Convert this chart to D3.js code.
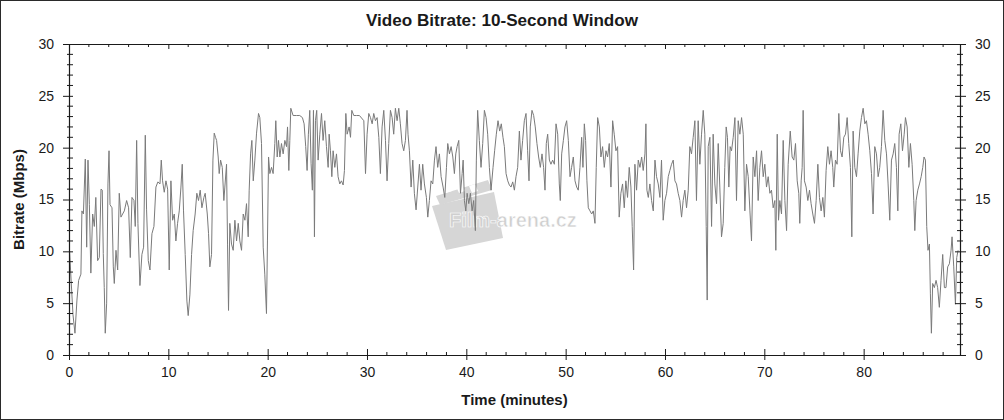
<!DOCTYPE html>
<html>
<head>
<meta charset="utf-8">
<script src="https://cdn.jsdelivr.net/npm/d3@7"></script>
<style>
  html, body { margin: 0; padding: 0; background: #fff; }
  svg { display: block; font-family: "Liberation Sans", Arial, sans-serif; }
</style>
</head>
<body>
<svg id="chart" width="1004" height="420"></svg>
<script>
// ---- data ----
const minutes = [
0.05,0.4,0.6,0.8,0.97,1.2,1.3,1.45,1.64,1.78,1.91,2.05,2.2,2.38,2.55,2.7,2.88,3.05,3.22,3.35,3.45,3.55,3.65,3.79,3.92,4.03,4.13,4.33,4.46,4.56,4.73,4.9,5.06,5.23,5.57,5.8,6.0,6.17,6.34,6.54,6.67,6.81,6.94,7.14,7.34,7.51,7.68,7.81,7.98,8.15,8.35,8.55,8.75,8.95,9.16,9.29,9.42,9.59,9.76,9.93,10.09,10.26,10.43,10.6,10.76,10.93,11.1,11.27,11.4,11.53,11.7,11.87,12.0,12.17,12.34,12.5,12.7,12.87,13.04,13.21,13.38,13.58,13.71,13.92,14.05,14.18,14.35,14.49,14.62,14.75,
14.86,15.02,15.12,15.26,15.43,15.59,15.69,15.86,15.96,16.06,16.19,16.36,16.53,16.7,16.87,17.04,17.2,17.37,17.54,17.71,17.87,18.04,18.14,18.28,18.41,18.55,18.71,18.88,19.08,19.21,19.38,19.55,19.71,19.88,19.98,20.09,20.22,20.39,20.55,20.72,20.82,20.96,21.09,21.23,21.39,21.56,21.73,21.9,22.0,22.13,22.23,22.33,22.56,22.9,23.23,23.5,23.67,23.83,23.97,24.1,24.24,24.37,24.5,24.61,24.71,24.81,24.94,25.08,25.25,25.42,25.58,25.75,25.92,26.09,26.19,26.32,26.46,26.59,26.76,26.93,27.09,27.26,27.43,27.6,27.73,27.87,28.0,28.2,28.34,28.47,28.67,28.94,29.24,
29.68,29.85,30.01,30.18,30.35,30.52,30.68,30.85,31.02,31.19,31.35,31.52,31.69,31.86,32.02,32.19,32.36,32.53,32.69,32.86,33.03,33.2,33.36,33.53,33.7,33.87,34.03,34.13,34.27,34.44,34.61,34.77,34.94,35.11,35.28,35.44,35.61,35.78,35.98,36.12,36.28,36.45,36.62,36.79,36.95,37.12,37.29,37.46,37.66,37.83,38.0,38.13,38.3,38.47,38.64,38.8,38.94,39.07,39.24,39.41,39.58,39.68,39.81,39.95,40.08,40.25,40.41,40.58,40.74,40.91,41.01,41.14,41.31,41.48,41.65,41.82,41.99,42.15,42.32,42.49,42.69,42.85,43.02,43.19,43.36,43.52,43.69,
43.83,44.0,44.17,44.33,44.5,44.67,44.84,45.0,45.17,45.34,45.5,45.67,45.84,46.01,46.17,46.31,46.44,46.61,46.78,46.94,47.11,47.28,47.45,47.62,47.78,47.92,48.05,48.19,48.36,48.52,48.69,48.86,49.03,49.2,49.36,49.46,49.6,49.77,49.93,50.1,50.27,50.44,50.6,50.77,50.94,51.11,51.27,51.44,51.61,51.74,51.88,52.01,52.14,52.28,52.45,52.62,52.78,52.95,53.08,53.22,53.39,53.55,53.72,53.89,54.06,54.22,54.39,54.56,54.73,54.89,55.06,55.23,55.39,55.56,55.73,55.9,56.06,56.23,56.4,56.57,56.7,56.84,56.97,57.14,57.31,57.48,57.65,57.81,57.98,58.08,
58.18,58.32,58.48,58.65,58.82,58.99,59.15,59.32,59.49,59.65,59.82,59.99,60.16,60.33,60.49,60.66,60.83,61.0,61.16,61.33,61.5,61.67,61.83,62.0,62.17,62.34,62.5,62.67,62.84,63.01,63.17,63.34,63.51,63.68,63.85,64.01,64.15,64.25,64.35,64.52,64.69,64.85,65.02,65.19,65.36,65.52,65.69,65.86,66.02,66.16,66.29,66.43,66.56,66.7,66.87,67.04,67.2,67.37,67.54,67.71,67.88,68.04,68.21,68.38,68.55,68.71,68.88,69.05,69.22,69.38,69.55,69.72,69.89,70.05,70.22,70.39,70.56,70.72,70.89,71.06,71.16,71.3,71.43,71.56,71.73,71.9,72.07,72.24,72.4,72.61,
72.8,72.97,73.14,73.31,73.47,73.57,73.71,73.81,73.91,74.04,74.21,74.38,74.55,74.71,74.88,75.05,75.22,75.39,75.55,75.72,75.89,76.05,76.22,76.39,76.56,76.72,76.89,76.99,77.16,77.33,77.5,77.67,77.83,78.0,78.17,78.34,78.5,78.67,78.81,78.94,79.11,79.28,79.44,79.61,79.78,79.95,80.12,80.28,80.45,80.62,80.79,80.95,81.12,81.29,81.46,81.62,81.79,81.96,82.13,82.3,82.46,82.63,82.8,82.97,83.13,83.3,83.44,83.57,83.74,83.91,84.08,84.21,84.38,84.55,84.71,84.88,85.05,85.15,85.28,85.45,85.62,85.79,85.95,86.08,86.22,86.35,86.48,86.62,86.72,86.82,86.95,87.12,87.29,87.45,87.62,87.79,87.96,88.13,88.29,88.46,88.63,88.8,88.9,89.07,89.24,89.37,89.51
];
const bitrate = [
10.1,3.9,2.1,5.3,7.2,7.8,13.9,13.6,18.9,10.4,18.8,14.5,7.9,13.6,12.4,15.2,9.1,9.4,16.0,15.9,9.8,6.5,2.1,5.0,16.5,19.7,14.5,14.2,8.5,6.9,10.1,8.2,15.6,13.3,13.9,14.9,14.2,9.4,15.2,14.9,12.4,20.7,12.7,6.7,9.7,10.4,21.2,14.0,9.1,8.2,11.7,12.4,16.2,16.7,16.5,18.8,16.8,15.7,16.8,16.0,8.2,16.8,13.0,13.6,11.0,12.7,13.9,16.2,18.4,13.9,9.7,5.2,3.8,5.8,9.7,12.0,13.6,15.6,14.9,15.9,14.2,15.2,15.6,13.6,11.7,8.5,9.7,18.8,21.4,21.0,
20.7,19.1,17.5,18.8,18.1,14.9,16.2,18.4,10.7,4.3,12.7,10.7,10.1,13.0,11.0,12.7,11.0,10.1,13.6,13.0,14.6,11.4,15.9,19.4,20.7,16.8,18.8,21.4,23.3,22.9,20.4,10.4,7.8,4.0,11.0,19.1,17.5,18.1,17.5,20.4,22.6,19.1,20.7,19.1,20.4,19.4,20.7,20.1,22.0,17.8,20.7,23.8,23.1,23.1,23.1,22.9,22.3,20.1,17.8,21.3,23.6,18.5,15.9,23.6,11.4,22.6,23.6,18.8,21.3,23.3,20.7,22.6,20.1,18.1,21.3,19.7,17.2,19.7,18.1,19.4,17.2,16.5,16.8,16.4,17.8,23.3,21.3,22.0,21.0,23.6,23.1,23.1,23.1,
22.6,17.5,21.3,23.3,22.9,22.3,23.3,22.6,22.9,21.0,17.5,22.0,23.6,20.7,16.8,20.4,23.6,22.9,21.3,23.8,22.6,23.8,22.3,20.4,19.7,20.7,23.6,21.3,19.7,16.2,18.8,15.6,14.0,16.2,18.4,15.9,18.4,16.5,15.2,13.3,14.9,16.8,16.5,18.8,20.1,18.1,19.4,17.2,16.2,15.2,18.1,20.4,19.4,20.1,19.1,17.5,19.4,20.1,20.7,15.6,17.5,18.8,14.9,13.9,15.6,14.6,15.6,13.9,14.9,12.0,18.8,23.6,20.7,18.1,20.4,23.6,22.9,21.3,18.1,15.9,18.1,19.7,21.3,22.6,21.6,22.3,21.0,
20.1,17.5,16.8,16.4,16.2,16.7,15.9,17.2,18.1,21.6,18.8,20.7,22.6,23.3,19.7,16.8,22.0,23.6,23.1,22.0,20.4,19.1,18.1,19.4,18.1,15.9,20.4,21.3,18.8,18.4,18.8,18.4,22.3,21.3,16.5,14.9,19.4,20.7,22.0,22.6,20.7,17.2,18.1,19.1,16.8,16.2,15.9,18.1,21.0,18.1,22.3,20.7,16.8,14.2,13.9,13.6,13.9,12.7,18.1,22.9,22.0,19.1,20.1,18.1,19.7,19.1,20.4,16.2,22.6,21.3,19.7,20.1,13.3,15.6,16.5,14.2,16.8,15.2,18.1,16.2,12.4,8.2,18.4,15.9,18.8,18.1,19.1,17.8,19.4,22.3,
15.9,15.2,16.5,14.9,13.9,18.8,17.2,16.5,15.2,18.8,13.0,14.9,15.6,17.2,17.8,18.4,18.8,16.8,16.5,15.6,14.9,13.3,14.9,15.9,14.2,15.9,20.1,19.4,21.0,22.6,14.9,22.6,18.4,21.3,23.6,21.3,12.4,5.3,20.1,21.0,12.4,21.3,16.5,14.6,20.4,16.2,11.4,12.7,18.1,22.0,21.0,16.2,20.1,19.7,21.0,22.9,14.9,22.6,21.3,22.9,21.3,13.9,18.4,17.2,13.9,11.0,19.1,17.2,19.7,14.9,18.1,19.7,17.2,18.4,16.2,17.2,15.6,15.9,14.2,14.9,10.1,21.3,13.0,14.9,13.6,20.7,14.9,12.0,18.4,21.6,
19.1,18.8,20.4,16.8,15.6,12.7,16.8,18.1,23.6,16.8,16.2,14.9,15.9,14.6,13.6,12.7,14.9,18.4,15.2,13.9,15.2,13.3,17.8,20.1,18.4,19.7,18.1,16.2,18.8,18.4,23.3,19.7,19.1,21.0,21.3,22.9,20.4,18.1,11.4,21.6,18.1,17.2,19.4,21.6,22.9,23.8,22.3,22.6,21.3,19.7,17.5,13.6,20.1,19.4,17.2,18.1,20.1,23.6,20.7,19.4,16.5,13.0,18.8,19.4,20.4,18.1,13.9,21.3,22.3,19.7,21.3,22.9,22.0,18.1,20.4,18.4,14.9,12.0,14.9,15.9,16.5,17.2,18.1,19.1,18.8,12.4,10.1,10.7,5.9,2.1,6.9,6.5,7.2,6.5,4.6,7.2,9.7,6.5,6.5,8.5,8.8,10.1,11.4,8.5,4.9,9.4,10.1
];
const xTicks = [0, 10, 20, 30, 40, 50, 60, 70, 80];
const yTicks = [0, 5, 10, 15, 20, 25, 30];
const titleText = "Video Bitrate: 10-Second Window";
const xLabel = "Time (minutes)";
const yLabel = "Bitrate (Mbps)";
const watermark = "Film-arena.cz";

// ---- layout ----
const svg = d3.select("#chart");
const W = 1004, H = 420;
const L = 69, R = 960, T = 44, B = 355;
const axisColor = "#1a1a1a";
const textColor = "#1a1a1a";

const x = d3.scaleLinear().domain([0, 89.7]).range([L, R]);
const y = d3.scaleLinear().domain([0, 30]).range([B, T]);

// outer frame
svg.append("rect").attr("x", 0.5).attr("y", 0.5).attr("width", W - 1).attr("height", H - 1)
  .attr("fill", "#fff").attr("stroke", "#2a2a2a").attr("stroke-width", 1);

// watermark (faint logo)
const wm = svg.append("g").attr("fill", "#d6d6d6");
wm.append("path").attr("d", "M432,206 L494,192 L503,238 L446,250 Z");
wm.append("path").attr("d", "M436,196 L488,180 L492,190 L440,205 Z");
wm.append("g").attr("fill", "#fff")
  .selectAll("path").data([0, 1, 2]).join("path")
  .attr("d", i => `M${446 + i * 13},193 L${452 + i * 13},191 L${449 + i * 13},184 L${443 + i * 13},186 Z`);
wm.append("text").attr("x", 449).attr("y", 227).attr("font-size", 20).attr("font-weight", "bold")
  .attr("fill", "#cfcfcf").attr("stroke", "#fff").attr("stroke-width", 0.6)
  .attr("font-family", "'Liberation Sans', Arial, sans-serif").text(watermark);

// line
const pts = minutes.map((m, i) => [m, bitrate[i]]);
svg.append("path").datum(pts)
  .attr("fill", "none").attr("stroke", "#7a7a7a").attr("stroke-width", 1)
  .attr("stroke-linejoin", "round")
  .attr("d", d3.line().x(d => x(d[0])).y(d => y(d[1])));

// axes
const minorX = d3.range(0, 89.7, 2).filter(v => v % 10 !== 0);
const minorY = d3.range(0, 30, 1).filter(v => v % 5 !== 0);

function styleAxis(g) {
  g.selectAll("path.domain").attr("stroke", axisColor).attr("stroke-width", 1.2);
  g.selectAll(".tick line").attr("stroke", axisColor);
  g.selectAll(".tick text").attr("fill", textColor).attr("font-size", 14)
    .attr("font-family", "'Liberation Sans', Arial, sans-serif");
}

// bottom
const gB = svg.append("g").attr("transform", `translate(0,${B})`)
  .call(d3.axisBottom(x).tickValues(xTicks).tickSize(0).tickPadding(12).tickSizeOuter(0));
styleAxis(gB);
gB.selectAll(".tick line").attr("y1", -6).attr("y2", 5);
gB.selectAll(".minor").data(minorX).join("line").attr("class", "minor")
  .attr("x1", d => x(d)).attr("x2", d => x(d)).attr("y1", -3).attr("y2", 1).attr("stroke", axisColor);

// top
const gT = svg.append("g").attr("transform", `translate(0,${T})`)
  .call(d3.axisTop(x).tickValues(xTicks).tickFormat("").tickSize(0).tickSizeOuter(0));
styleAxis(gT);
gT.selectAll(".tick line").attr("y1", 0).attr("y2", 5);
gT.selectAll(".minor").data(minorX).join("line").attr("class", "minor")
  .attr("x1", d => x(d)).attr("x2", d => x(d)).attr("y1", 0).attr("y2", 3).attr("stroke", axisColor);

// left
const gL = svg.append("g").attr("transform", `translate(${L},0)`)
  .call(d3.axisLeft(y).tickValues(yTicks).tickSize(0).tickPadding(15).tickSizeOuter(0));
styleAxis(gL);
gL.selectAll(".tick line").attr("x1", -6).attr("x2", 4);
gL.selectAll(".minor").data(minorY).join("line").attr("class", "minor")
  .attr("y1", d => y(d)).attr("y2", d => y(d)).attr("x1", -2).attr("x2", 4).attr("stroke", axisColor);

// right
const gR = svg.append("g").attr("transform", `translate(${R},0)`)
  .call(d3.axisRight(y).tickValues(yTicks).tickSize(0).tickPadding(15).tickSizeOuter(0));
styleAxis(gR);
gR.selectAll(".tick line").attr("x1", -5).attr("x2", 6);
gR.selectAll(".minor").data(minorY).join("line").attr("class", "minor")
  .attr("y1", d => y(d)).attr("y2", d => y(d)).attr("x1", -3).attr("x2", 3).attr("stroke", axisColor);

// titles
svg.append("text").attr("x", 502).attr("y", 26).attr("text-anchor", "middle")
  .attr("font-size", 16).attr("font-weight", "bold").attr("fill", textColor)
  .attr("textLength", 272).attr("lengthAdjust", "spacingAndGlyphs")
  .text(titleText);
svg.append("text").attr("x", (L + R) / 2).attr("y", 405).attr("text-anchor", "middle")
  .attr("font-size", 15).attr("font-weight", "bold").attr("fill", textColor)
  .text(xLabel);
svg.append("text").attr("transform", `translate(24,${(T + B) / 2}) rotate(-90)`)
  .attr("text-anchor", "middle")
  .attr("font-size", 15).attr("font-weight", "bold").attr("fill", textColor)
  .text(yLabel);
</script>
</body>
</html>
